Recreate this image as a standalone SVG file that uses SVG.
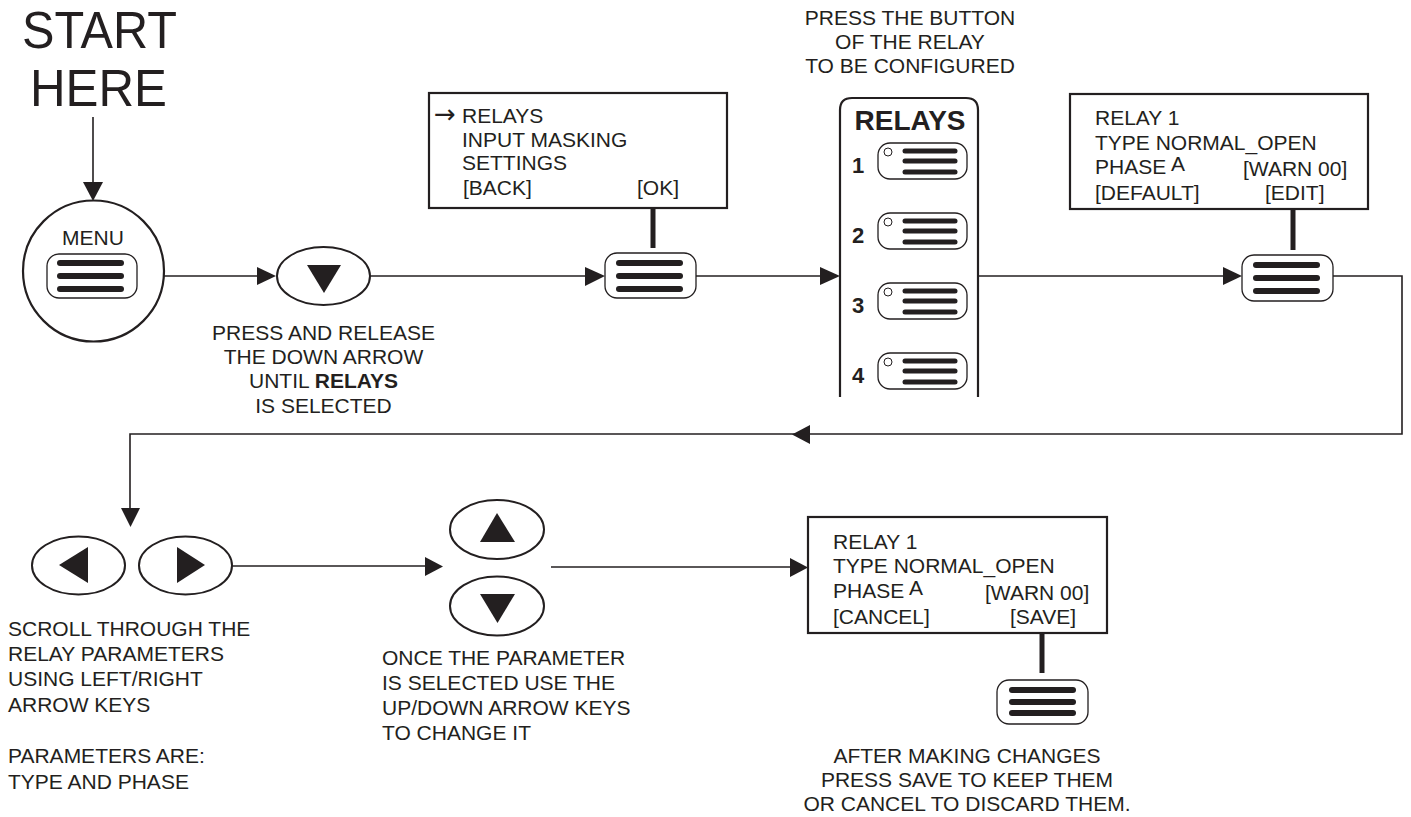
<svg xmlns="http://www.w3.org/2000/svg" width="1411" height="817" viewBox="0 0 1411 817">
<style>
text{font-family:"Liberation Sans",Arial,sans-serif;fill:#231f20;font-size:21px}
.c{text-anchor:middle}
.b{font-weight:bold}
.big{font-size:52px}
.rl{font-size:28px;font-weight:bold}
.num{font-size:22px;font-weight:bold}
.arr{font-family:"DejaVu Sans",sans-serif;font-size:26px}
.ln{stroke:#231f20;stroke-width:1.6;fill:none}
.ah{fill:#231f20;stroke:none}
.box{fill:#fff;stroke:#231f20;stroke-width:2.2}
.btn{fill:#fff;stroke:#231f20;stroke-width:1.3}
.bar{stroke:#231f20;stroke-width:6;stroke-linecap:round}
.bar5{stroke:#231f20;stroke-width:5;stroke-linecap:round}
.ell{fill:#fff;stroke:#231f20;stroke-width:2}
.tri{fill:#231f20}
.stem{stroke:#231f20;stroke-width:5}
</style>
<rect width="1411" height="817" fill="#fff"/>

<g id="connectors">
  <line class="ln" x1="93" y1="117" x2="93" y2="184"/>
  <polygon class="ah" points="83,182 103,182 93,201"/>
  <line class="ln" x1="164" y1="276" x2="259" y2="276"/>
  <polygon class="ah" points="257,267 257,285 276,276"/>
  <line class="ln" x1="370" y1="276" x2="587" y2="276"/>
  <polygon class="ah" points="585,267 585,286 605,276"/>
  <line class="ln" x1="696" y1="276" x2="822" y2="276"/>
  <polygon class="ah" points="820,267 820,285 840,276"/>
  <line class="ln" x1="978" y1="276" x2="1225" y2="276"/>
  <polygon class="ah" points="1223,267 1223,285 1242,276"/>
  <polyline class="ln" points="1333,276 1402,276 1402,434 130,434 130,510"/>
  <polygon class="ah" points="810,425 810,444 792,434.5"/>
  <polygon class="ah" points="121,508 140,508 130.5,527"/>
  <line class="ln" x1="232" y1="566" x2="427" y2="566"/>
  <polygon class="ah" points="425,557 425,576 443,566.5"/>
  <line class="ln" x1="551" y1="567" x2="792" y2="567"/>
  <polygon class="ah" points="790,558 790,577 808,567.5"/>
  <line class="stem" x1="653" y1="208" x2="653" y2="248"/>
  <line class="stem" x1="1293" y1="209" x2="1293" y2="250"/>
  <line class="stem" x1="1042" y1="633" x2="1042" y2="673"/>
</g>

<g id="start">
  <text class="c big" x="99.5" y="48" textLength="155" lengthAdjust="spacingAndGlyphs">START</text>
  <text class="c big" x="98.5" y="106" textLength="137" lengthAdjust="spacingAndGlyphs">HERE</text>
</g>

<g id="menu">
  <circle cx="93.5" cy="271" r="70.5" fill="#fff" stroke="#231f20" stroke-width="2.2"/>
  <text class="c" x="93" y="245">MENU</text>
  <rect class="btn" x="47" y="254" width="90" height="44" rx="12"/>
  <line class="bar" x1="60" y1="263" x2="121" y2="263"/>
  <line class="bar" x1="60" y1="276" x2="121" y2="276"/>
  <line class="bar" x1="60" y1="289" x2="121" y2="289"/>
</g>

<g id="down1">
  <ellipse class="ell" cx="323.5" cy="276" rx="46.5" ry="29"/>
  <polygon class="tri" points="307,265 341,265 324,293"/>
  <text class="c" x="323.5" y="340">PRESS AND RELEASE</text>
  <text class="c" x="323.5" y="364">THE DOWN ARROW</text>
  <text class="c" x="323.5" y="388">UNTIL <tspan class="b">RELAYS</tspan></text>
  <text class="c" x="323.5" y="413">IS SELECTED</text>
</g>

<g id="menubox">
  <rect class="box" x="429" y="93" width="298" height="115"/>
  <text x="434" y="123"><tspan class="arr">→</tspan><tspan x="462">RELAYS</tspan></text>
  <text x="462" y="147">INPUT MASKING</text>
  <text x="462" y="170">SETTINGS</text>
  <text x="463" y="195">[BACK]</text>
  <text x="637" y="195">[OK]</text>
</g>

<g id="okbtn">
  <rect class="btn" x="605" y="253" width="91" height="45" rx="12"/>
  <line class="bar" x1="619" y1="263" x2="680" y2="263"/>
  <line class="bar" x1="619" y1="276" x2="680" y2="276"/>
  <line class="bar" x1="619" y1="289" x2="680" y2="289"/>
</g>

<g id="relays">
  <text class="c" x="910" y="25">PRESS THE BUTTON</text>
  <text class="c" x="910" y="49">OF THE RELAY</text>
  <text class="c" x="910" y="73">TO BE CONFIGURED</text>
  <path d="M840,397 V110 Q840,98 852,98 H966 Q978,98 978,110 V397" fill="none" stroke="#231f20" stroke-width="2.2"/>
  <text class="c rl" x="910" y="130">RELAYS</text>
  <g id="relay1">
    <text class="c num" x="858" y="173">1</text>
    <rect class="btn" x="878" y="143" width="89" height="36" rx="12"/>
    <circle cx="888" cy="152" r="4" fill="#fff" stroke="#231f20" stroke-width="1"/>
    <line class="bar5" x1="905" y1="151" x2="955" y2="151"/>
    <line class="bar5" x1="905" y1="161" x2="955" y2="161"/>
    <line class="bar5" x1="905" y1="172" x2="955" y2="172"/>
  </g>
  <g id="relay2">
    <text class="c num" x="858" y="243">2</text>
    <rect class="btn" x="878" y="213" width="89" height="36" rx="12"/>
    <circle cx="888" cy="222" r="4" fill="#fff" stroke="#231f20" stroke-width="1"/>
    <line class="bar5" x1="905" y1="221" x2="955" y2="221"/>
    <line class="bar5" x1="905" y1="231" x2="955" y2="231"/>
    <line class="bar5" x1="905" y1="242" x2="955" y2="242"/>
  </g>
  <g id="relay3">
    <text class="c num" x="858" y="313">3</text>
    <rect class="btn" x="878" y="283" width="89" height="36" rx="12"/>
    <circle cx="888" cy="292" r="4" fill="#fff" stroke="#231f20" stroke-width="1"/>
    <line class="bar5" x1="905" y1="291" x2="955" y2="291"/>
    <line class="bar5" x1="905" y1="301" x2="955" y2="301"/>
    <line class="bar5" x1="905" y1="312" x2="955" y2="312"/>
  </g>
  <g id="relay4">
    <text class="c num" x="858" y="383">4</text>
    <rect class="btn" x="878" y="353" width="89" height="36" rx="12"/>
    <circle cx="888" cy="362" r="4" fill="#fff" stroke="#231f20" stroke-width="1"/>
    <line class="bar5" x1="905" y1="361" x2="955" y2="361"/>
    <line class="bar5" x1="905" y1="371" x2="955" y2="371"/>
    <line class="bar5" x1="905" y1="382" x2="955" y2="382"/>
  </g>
</g>

<g id="relaybox1">
  <rect class="box" x="1070" y="94" width="298" height="115"/>
  <text x="1095" y="125">RELAY 1</text>
  <text x="1095" y="150">TYPE NORMAL_OPEN</text>
  <text x="1095" y="174">PHASE <tspan dy="-3">A</tspan></text>
  <text x="1243" y="176">[WARN 00]</text>
  <text x="1095" y="200">[DEFAULT]</text>
  <text x="1265" y="200">[EDIT]</text>
</g>

<g id="editbtn">
  <rect class="btn" x="1242" y="255" width="91" height="46" rx="12"/>
  <line class="bar" x1="1256" y1="265" x2="1317" y2="265"/>
  <line class="bar" x1="1256" y1="278" x2="1317" y2="278"/>
  <line class="bar" x1="1256" y1="291" x2="1317" y2="291"/>
</g>

<g id="leftright">
  <ellipse class="ell" cx="78.5" cy="565.5" rx="46.5" ry="29"/>
  <polygon class="tri" points="59,565 88,547 88,583"/>
  <ellipse class="ell" cx="185.5" cy="565.5" rx="46.5" ry="29"/>
  <polygon class="tri" points="205,565 177,547 177,583"/>
  <text x="8" y="636">SCROLL THROUGH THE</text>
  <text x="8" y="661">RELAY PARAMETERS</text>
  <text x="8" y="686">USING LEFT/RIGHT</text>
  <text x="8" y="712">ARROW KEYS</text>
  <text x="8" y="763">PARAMETERS ARE:</text>
  <text x="8" y="789">TYPE AND PHASE</text>
</g>

<g id="updown">
  <ellipse class="ell" cx="497" cy="529.5" rx="47" ry="29.5"/>
  <polygon class="tri" points="497,513 515,542 480,542"/>
  <ellipse class="ell" cx="497" cy="606" rx="47" ry="29.5"/>
  <polygon class="tri" points="480,594 515,594 497.5,623"/>
  <text x="382" y="665">ONCE THE PARAMETER</text>
  <text x="382" y="690">IS SELECTED USE THE</text>
  <text x="382" y="715">UP/DOWN ARROW KEYS</text>
  <text x="382" y="740">TO CHANGE IT</text>
</g>

<g id="relaybox2">
  <rect class="box" x="808" y="517" width="299" height="116"/>
  <text x="833" y="549">RELAY 1</text>
  <text x="833" y="573">TYPE NORMAL_OPEN</text>
  <text x="833" y="598">PHASE <tspan dy="-3">A</tspan></text>
  <text x="985" y="600">[WARN 00]</text>
  <text x="833" y="624">[CANCEL]</text>
  <text x="1010" y="624">[SAVE]</text>
</g>

<g id="savebtn">
  <rect class="btn" x="997" y="680" width="91" height="44" rx="12"/>
  <line class="bar" x1="1012" y1="690" x2="1073" y2="690"/>
  <line class="bar" x1="1012" y1="702" x2="1073" y2="702"/>
  <line class="bar" x1="1012" y1="713" x2="1073" y2="713"/>
  <text class="c" x="967" y="763">AFTER MAKING CHANGES</text>
  <text class="c" x="967" y="787">PRESS SAVE TO KEEP THEM</text>
  <text class="c" x="967" y="811">OR CANCEL TO DISCARD THEM.</text>
</g>
</svg>
